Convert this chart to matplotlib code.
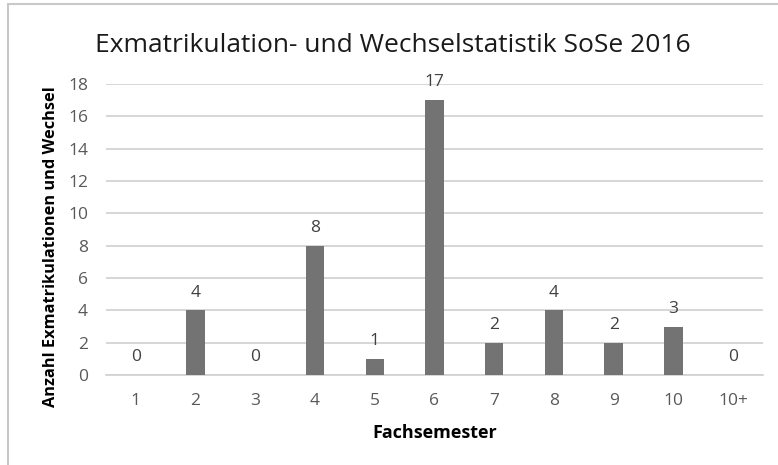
import matplotlib
matplotlib.use('Agg')
import matplotlib.pyplot as plt
from matplotlib.patches import Rectangle

# --- DATA ---
semester = ['1', '2', '3', '4', '5', '6', '7', '8', '9', '10', '10+']
anzahl = [0, 4, 0, 8, 1, 17, 2, 4, 2, 3, 0]
y_ticks = [0, 2, 4, 6, 8, 10, 12, 14, 16, 18]

plt.rcParams['font.family'] = ['Open Sans', 'DejaVu Sans']

W, H = 778, 465
fig = plt.figure(figsize=(W / 100, H / 100), dpi=100)

# outer chart frame (only top/left visible in the crop)
fig.add_artist(Rectangle((7.5 / W, -0.1), 1.2, (H - 4.5) / H + 0.1, transform=fig.transFigure,
                         fill=False, edgecolor='#c8c8c8', linewidth=1.5))

ax = fig.add_axes([106 / W, 1 - 375 / H, (763 - 106) / W, (375 - 84) / H])

x = range(len(semester))
ax.bar(x, anzahl, width=0.31, color='#737373', zorder=3)
for xi, v in zip(x, anzahl):
    ax.annotate(str(v), (xi, v), xytext=(0, 7), textcoords='offset points',
                ha='center', va='bottom', fontsize=12.5, color='#404040')

ax.set_xlim(-0.5, len(semester) - 0.5)
ax.set_ylim(0, 18)
ax.set_yticks(y_ticks)
ax.set_xticks(list(x))
ax.set_xticklabels(semester)
ax.tick_params(axis='both', length=0, labelsize=12.5, labelcolor='#595959')
ax.tick_params(axis='x', pad=13)
ax.tick_params(axis='y', pad=13)
ax.grid(axis='y', color='#d0d0d0', linewidth=1.2, zorder=0)
for s in ['top', 'right', 'left']:
    ax.spines[s].set_visible(False)
ax.spines['bottom'].set_color('#d0d0d0')
ax.spines['bottom'].set_linewidth(1.2)

# axis titles placed like the Excel chart
fig.text(435 / W, 1 - 433 / H, 'Fachsemester', ha='center', va='center',
         fontsize=13, fontweight='bold', color='black')
fig.text(51 / W, 1 - 247 / H, 'Anzahl Exmatrikulationen und Wechsel', ha='center', va='center',
         rotation=90, fontsize=11.8, fontweight='bold', color='black')

fig.text(393 / W, 1 - 45 / H, 'Exmatrikulation- und Wechselstatistik SoSe 2016',
         ha='center', va='center', fontsize=19, color='#1a1a1a')

fig.savefig('out.png', dpi=100)
